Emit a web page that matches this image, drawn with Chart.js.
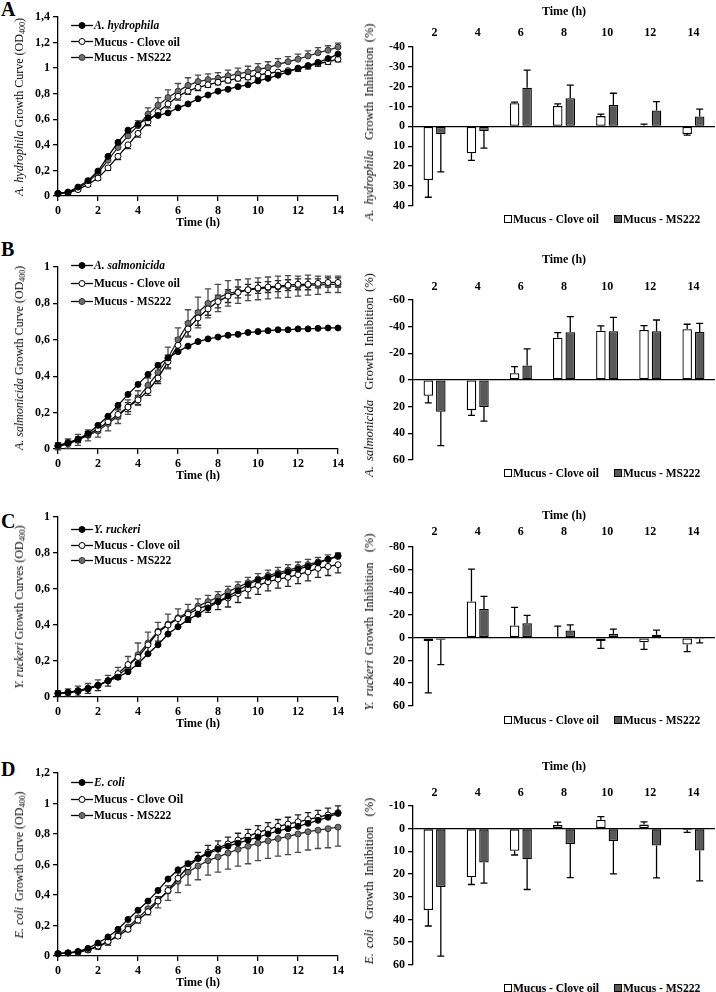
<!DOCTYPE html>
<html><head><meta charset="utf-8">
<script src="https://cdn.jsdelivr.net/npm/chart.js@4.4.1/dist/chart.umd.min.js"></script>
<style>
html,body{margin:0;padding:0;background:#fff;}
#page{position:relative;width:716px;height:992px;overflow:hidden;font-family:'Liberation Serif','Times New Roman',serif;color:#000;}
canvas{position:absolute;}
.letter{position:absolute;left:1px;font-weight:bold;font-size:20px;line-height:20px;}
.ytitle{position:absolute;font-size:12px;white-space:nowrap;transform:translate(-50%,-50%) rotate(-90deg);line-height:14px;}
.ytitle.r{font-size:12.5px;word-spacing:2px;}
.ytitle sub{font-size:8px;vertical-align:-2px;line-height:0;}
.lrow{position:absolute;left:71px;font-weight:bold;font-size:11.5px;white-space:nowrap;display:flex;align-items:center;height:14px;transform:translateY(-50%);}
.lrow svg{margin-right:1px;}
.blegend{position:absolute;left:504px;font-weight:bold;font-size:11.5px;white-space:nowrap;display:flex;align-items:center;height:14px;transform:translateY(-50%);}
.blegend .box{display:inline-block;width:6px;height:6px;border:1px solid #000;margin-right:1px;}
.blegend .gap{display:inline-block;width:15px;}
</style>
</head><body><div id="page"></div>
<script>
// ---------- DATA ----------
const timeHours = [0,0.5,1,1.5,2,2.5,3,3.5,4,4.5,5,5.5,6,6.5,7,7.5,8,8.5,9,9.5,10,10.5,11,11.5,12,12.5,13,13.5,14];
const inhibitionHours = ['2','4','6','8','10','12','14'];
const treatmentLabels = ['Mucus - Clove oil','Mucus - MS222'];

// A. hydrophila growth (OD400)
const hydrophilaControl = [0.02,0.03,0.07,0.12,0.195,0.31,0.42,0.515,0.56,0.61,0.63,0.65,0.69,0.72,0.76,0.79,0.82,0.835,0.855,0.87,0.9,0.92,0.945,0.97,1.0,1.02,1.045,1.075,1.11];
const hydrophilaClove = [0.02,0.025,0.05,0.09,0.14,0.22,0.31,0.4,0.49,0.58,0.66,0.72,0.78,0.82,0.85,0.87,0.89,0.905,0.92,0.93,0.945,0.96,0.97,0.98,0.995,1.015,1.035,1.05,1.07];
const hydrophilaMS222 = [0.02,0.03,0.06,0.11,0.18,0.28,0.38,0.47,0.55,0.64,0.71,0.77,0.82,0.865,0.895,0.91,0.92,0.94,0.955,0.97,0.99,1.005,1.03,1.05,1.07,1.095,1.12,1.14,1.165];
const hydrophilaCloveErr = [0.01,0.01,0.01,0.015,0.015,0.02,0.025,0.03,0.03,0.03,0.03,0.03,0.03,0.025,0.025,0.02,0.02,0.02,0.02,0.02,0.02,0.02,0.02,0.02,0.02,0.02,0.02,0.02,0.02];
const hydrophilaMS222Err = [0.01,0.01,0.012,0.015,0.02,0.025,0.03,0.035,0.04,0.05,0.06,0.06,0.06,0.06,0.05,0.045,0.045,0.045,0.045,0.045,0.045,0.045,0.045,0.04,0.04,0.04,0.04,0.035,0.03];

// A. salmonicida growth (OD400)
const salmonicidaControl = [0.02,0.035,0.055,0.085,0.13,0.18,0.24,0.3,0.355,0.41,0.46,0.5,0.535,0.565,0.59,0.605,0.615,0.625,0.63,0.64,0.645,0.65,0.655,0.655,0.66,0.66,0.663,0.665,0.665];
const salmonicidaClove = [0.015,0.03,0.05,0.08,0.11,0.15,0.19,0.23,0.27,0.32,0.39,0.48,0.57,0.66,0.72,0.77,0.81,0.84,0.86,0.875,0.885,0.89,0.895,0.9,0.905,0.905,0.91,0.915,0.915];
const salmonicidaMS222 = [0.015,0.03,0.05,0.075,0.1,0.14,0.18,0.23,0.28,0.35,0.42,0.5,0.6,0.69,0.75,0.8,0.83,0.855,0.865,0.875,0.88,0.885,0.89,0.893,0.895,0.9,0.9,0.905,0.905];
const salmonicidaCloveErr = [0.01,0.01,0.015,0.015,0.02,0.02,0.025,0.025,0.025,0.025,0.03,0.035,0.04,0.04,0.04,0.035,0.035,0.035,0.03,0.03,0.03,0.03,0.03,0.03,0.03,0.03,0.025,0.025,0.025];
const salmonicidaMS222Err = [0.02,0.025,0.03,0.03,0.035,0.04,0.04,0.04,0.04,0.04,0.05,0.06,0.065,0.075,0.085,0.08,0.075,0.07,0.065,0.06,0.06,0.06,0.06,0.06,0.055,0.055,0.05,0.045,0.045];

// Y. ruckeri growth (OD400)
const ruckeriControl = [0.02,0.025,0.035,0.045,0.065,0.09,0.11,0.14,0.185,0.24,0.29,0.35,0.39,0.43,0.46,0.495,0.53,0.56,0.59,0.625,0.65,0.665,0.68,0.695,0.71,0.725,0.745,0.765,0.785];
const ruckeriClove = [0.02,0.025,0.03,0.045,0.065,0.09,0.13,0.18,0.22,0.29,0.36,0.4,0.435,0.46,0.49,0.51,0.53,0.55,0.575,0.6,0.62,0.64,0.655,0.665,0.68,0.695,0.715,0.725,0.735];
const ruckeriMS222 = [0.02,0.025,0.035,0.05,0.065,0.09,0.12,0.165,0.235,0.3,0.365,0.405,0.44,0.47,0.505,0.53,0.555,0.585,0.61,0.635,0.655,0.675,0.69,0.705,0.72,0.735,0.75,0.765,0.78];
const ruckeriCloveErr = [0.015,0.02,0.025,0.025,0.03,0.03,0.03,0.04,0.05,0.05,0.05,0.05,0.045,0.045,0.04,0.04,0.045,0.05,0.05,0.05,0.05,0.05,0.05,0.05,0.05,0.05,0.05,0.05,0.045];
const ruckeriMS222Err = [0.015,0.02,0.025,0.025,0.03,0.03,0.045,0.06,0.065,0.06,0.05,0.055,0.05,0.045,0.04,0.035,0.03,0.03,0.03,0.03,0.03,0.03,0.03,0.03,0.03,0.03,0.025,0.025,0.02];

// E. coli growth (OD400)
const coliControl = [0.015,0.02,0.03,0.05,0.085,0.125,0.175,0.24,0.3,0.36,0.43,0.505,0.565,0.605,0.64,0.67,0.7,0.72,0.74,0.76,0.78,0.8,0.82,0.835,0.85,0.87,0.89,0.91,0.935];
const coliClove = [0.015,0.02,0.025,0.04,0.065,0.095,0.13,0.175,0.235,0.29,0.36,0.43,0.51,0.585,0.64,0.68,0.71,0.735,0.76,0.785,0.81,0.83,0.85,0.865,0.88,0.895,0.91,0.925,0.94];
const coliMS222 = [0.015,0.02,0.025,0.04,0.06,0.09,0.14,0.19,0.25,0.31,0.365,0.425,0.49,0.55,0.59,0.625,0.65,0.675,0.7,0.72,0.74,0.755,0.77,0.785,0.8,0.815,0.825,0.835,0.845];
const coliCloveErr = [0.01,0.01,0.01,0.01,0.015,0.015,0.02,0.02,0.025,0.025,0.03,0.03,0.035,0.035,0.04,0.045,0.045,0.045,0.045,0.045,0.045,0.045,0.045,0.045,0.045,0.045,0.045,0.045,0.045];
const coliMS222Err = [0.01,0.01,0.01,0.015,0.015,0.02,0.025,0.03,0.035,0.04,0.05,0.06,0.075,0.085,0.09,0.095,0.1,0.105,0.11,0.115,0.115,0.115,0.115,0.12,0.12,0.12,0.12,0.125,0.125];

// Growth inhibition (%)
const hydrophilaInhClove = [27,13.5,-11.7,-10.3,-5.2,-0.5,3.8];
const hydrophilaInhCloveErr = [8.7,3.6,0.5,1,1,0.6,0.6];
const hydrophilaInhMS222 = [3.9,2.3,-19.5,-14.2,-10.8,-8,-5];
const hydrophilaInhMS222Err = [19,8.6,8.8,6.6,5.9,4.5,3.7];

const salmonicidaInhClove = [11.9,22.7,-5,-31.7,-37,-37.5,-38];
const salmonicidaInhCloveErr = [5.4,3.9,5,3.8,3.5,3.3,3.8];
const salmonicidaInhMS222 = [24,20.3,-10.8,-35.8,-36.5,-36.5,-36];
const salmonicidaInhMS222Err = [25.3,10.6,12.5,11.7,10.5,8.5,6.5];

const ruckeriInhClove = [2.9,-32,-10.8,-0.9,2.9,4,6];
const ruckeriInhCloveErr = [45.7,28.5,16,9.3,6.5,6.3,6.3];
const ruckeriInhMS222 = [1.7,-25.3,-12.8,-6.4,-3.5,-2.6,1.4];
const ruckeriInhMS222Err = [22,11.1,7,4.9,4.1,4.1,3.2];

const coliInhClove = [35.9,21.4,9.7,-1.6,-3.8,-1.8,0.6];
const coliInhCloveErr = [7,3.2,1.9,1.3,1.5,1.2,1];
const coliInhMS222 = [25.7,14.9,13.5,6.8,5.4,7.4,9.6];
const coliInhMS222Err = [30.5,9.1,13.3,14.8,14.5,14.3,13.4];

// ---------- RENDERING ----------
const FONT = "'Liberation Serif','Times New Roman',serif";
const page = document.getElementById('page');
const tickFont = {family: FONT, size: 12, weight: 'bold'};
const BLACK = '#000', GRAY_FILL = '#6e6e6e', GRAY_EDGE = '#333', BAR_GRAY = '#595959';

function drawErrors(chart){
  const ctx = chart.ctx, ys = chart.scales.y;
  chart.data.datasets.forEach((ds, di) => {
    if (!ds.errors) return;
    const meta = chart.getDatasetMeta(di);
    ctx.save();
    ctx.strokeStyle = ds.errorColor || BLACK;
    ctx.lineWidth = 1.3;
    meta.data.forEach((el, i) => {
      const raw = ds.data[i];
      const v = (typeof raw === 'object') ? raw.y : raw;
      const e = ds.errors[i];
      if (!e) return;
      const dir = ds.errorDir;
      let ends = [];
      if (dir === 'up') ends = [v + e];
      else if (dir === 'down') ends = [v - e];
      else if (dir === 'both') ends = [v - e, v + e];
      else if (dir === 'away') ends = [v >= 0 ? v + e : v - e];
      const x = el.x, y0 = ys.getPixelForValue(v);
      const cw = ds.capHalf || 3.2;
      ctx.beginPath();
      ends.forEach(en => {
        const y1 = ys.getPixelForValue(en);
        ctx.moveTo(x, y0); ctx.lineTo(x, y1);
        ctx.moveTo(x - cw, y1); ctx.lineTo(x + cw, y1);
      });
      ctx.stroke();
    });
    ctx.restore();
  });
}
const errorBarPlugin = {
  id: 'errorBars',
  beforeDatasetsDraw(chart){ if (chart.config.type === 'line') drawErrors(chart); },
  afterDatasetsDraw(chart){ if (chart.config.type === 'bar') drawErrors(chart); }
};
Chart.register(errorBarPlugin);

function addCanvas(left, top, w, h){
  const c = document.createElement('canvas');
  c.width = w; c.height = h;
  c.style.left = left + 'px'; c.style.top = top + 'px';
  c.style.width = w + 'px'; c.style.height = h + 'px';
  page.appendChild(c);
  return c;
}
function addHTML(cls, html, style){
  const d = document.createElement('div');
  d.className = cls; d.innerHTML = html;
  Object.assign(d.style, style);
  page.appendChild(d);
  return d;
}
const commaFmt = v => String(Math.round(v * 10) / 10).replace('.', ',');

function lineChart(o){
  const c = addCanvas(0, o.top, 350, o.h);
  const pts = arr => timeHours.map((t, i) => ({x: t, y: arr[i]}));
  const base = {borderColor: BLACK, borderWidth: 1.3, pointRadius: 3, pointBorderWidth: 1, tension: 0, clip: false};
  new Chart(c, {
    type: 'line',
    data: {datasets: [
      Object.assign({}, base, {label: o.labels[0], data: pts(o.control), pointBackgroundColor: BLACK, pointBorderColor: BLACK}),
      Object.assign({}, base, {label: o.labels[1], data: pts(o.clove), pointBackgroundColor: '#fff', pointBorderColor: BLACK,
        errors: o.cloveErr, errorDir: o.cloveDir, errorColor: '#222'}),
      Object.assign({}, base, {label: o.labels[2], data: pts(o.ms), pointBackgroundColor: GRAY_FILL, pointBorderColor: GRAY_EDGE, borderColor: '#222',
        errors: o.msErr, errorDir: o.msDir, errorColor: '#4a4a4a'})
    ]},
    options: {
      responsive: false, animation: false,
      layout: {padding: {left: 0, right: 12, top: o.padTop, bottom: 0}},
      plugins: {legend: {display: false}, tooltip: {enabled: false}},
      scales: {
        x: {type: 'linear', min: 0, max: 14,
          ticks: {stepSize: 2, font: tickFont, color: BLACK, padding: 3},
          grid: {drawOnChartArea: false, tickLength: 5, color: BLACK, lineWidth: 1.3},
          border: {display: true, color: BLACK, width: 1.3},
          title: {display: true, text: 'Time (h)', font: tickFont, color: BLACK, padding: {top: 0, bottom: 4}},
          afterFit(s){ s.height = 38; }},
        y: {min: 0, max: o.ymax,
          ticks: {stepSize: 0.2, font: tickFont, color: BLACK, padding: 3, callback: commaFmt},
          grid: {drawOnChartArea: false, tickLength: 5, color: BLACK, lineWidth: 1.3},
          border: {display: true, color: BLACK, width: 1.3},
          afterFit(s){ s.width = 58; }}
      }
    }
  });
  const fills = [[BLACK, BLACK], ['#fff', BLACK], [GRAY_FILL, GRAY_EDGE]];
  o.labels.forEach((lab, i) => {
    const svg = `<svg width="22" height="9"><line x1="0" y1="4.5" x2="22" y2="4.5" stroke="#000" stroke-width="1.3"/><circle cx="11" cy="4.5" r="3" fill="${fills[i][0]}" stroke="${fills[i][1]}" stroke-width="1"/></svg>`;
    const txt = i === 0 ? `<i>${lab}</i>` : lab;
    addHTML('lrow', svg + txt, {top: o.legendRows[i] + 'px'});
  });
  addHTML('ytitle', o.ytitle, {left: '19px', top: (o.top + o.padTop + (o.h - o.padTop - 38) / 2) + 'px'});
}

function barChart(o){
  const c = addCanvas(360, o.top, 356, o.h);
  const scaleH = o.chartTop - o.top;
  new Chart(c, {
    type: 'bar',
    data: {labels: inhibitionHours, datasets: [
      {label: treatmentLabels[0], data: o.clove, backgroundColor: '#fff', borderColor: BLACK, borderWidth: 1.3, borderSkipped: false,
        errors: o.cloveErr, errorDir: 'away', capHalf: 3.5, categoryPercentage: 0.58, barPercentage: 0.76},
      {label: treatmentLabels[1], data: o.ms, backgroundColor: BAR_GRAY, borderColor: BLACK, borderWidth: 1.3, borderSkipped: false,
        errors: o.msErr, errorDir: 'away', capHalf: 3.5, categoryPercentage: 0.58, barPercentage: 0.76}
    ]},
    options: {
      responsive: false, animation: false,
      layout: {padding: {left: 0, right: 1, top: 0, bottom: 8}},
      plugins: {legend: {display: false}, tooltip: {enabled: false}},
      scales: {
        x: {position: 'top', offset: true,
          ticks: {font: tickFont, color: BLACK, padding: o.tickPad, maxRotation: 0},
          grid: {display: false, drawTicks: false},
          border: {display: false},
          title: {display: true, text: 'Time (h)', font: tickFont, color: BLACK, padding: {top: 4, bottom: 0}},
          afterFit(s){ s.height = scaleH; }},
        y: {reverse: true, min: o.min, max: o.max,
          ticks: {stepSize: o.step, font: tickFont, color: BLACK, padding: 3},
          grid: {color: ctx => (ctx.tick && ctx.tick.value === 0) ? BLACK : 'rgba(0,0,0,0)', lineWidth: 1.3, tickLength: 5, tickColor: BLACK, drawTicks: true},
          border: {display: true, color: BLACK, width: 1.3},
          afterFit(s){ s.width = 53; }}
      }
    }
  });
  addHTML('blegend',
    `<span class="box" style="background:#fff"></span>${treatmentLabels[0]}<span class="gap"></span><span class="box" style="background:${BAR_GRAY}"></span>${treatmentLabels[1]}`,
    {top: o.legendY + 'px'});
  addHTML('ytitle r', o.ytitle, {left: '369px', top: ((o.chartTop + o.chartBottom) / 2 - 6) + 'px'});
}

// Panel letters
[['A', -1], ['B', 239], ['C', 511], ['D', 759]].forEach(([t, y]) => addHTML('letter', t, {top: y + 'px'}));

const OD = 'OD<sub>400</sub>';
lineChart({top: 0, h: 234, padTop: 17, ymax: 1.4,
  control: hydrophilaControl, clove: hydrophilaClove, ms: hydrophilaMS222,
  cloveErr: hydrophilaCloveErr, cloveDir: 'down', msErr: hydrophilaMS222Err, msDir: 'up',
  labels: ['A. hydrophila', 'Mucus - Clove oil', 'Mucus - MS222'], legendRows: [25, 41.5, 57],
  ytitle: `<i>A. hydrophila</i> Growth Curve (${OD})`});
lineChart({top: 240, h: 247, padTop: 27, ymax: 1,
  control: salmonicidaControl, clove: salmonicidaClove, ms: salmonicidaMS222,
  cloveErr: salmonicidaCloveErr, cloveDir: 'both', msErr: salmonicidaMS222Err, msDir: 'both',
  labels: ['A. salmonicida', 'Mucus - Clove oil', 'Mucus - MS222'], legendRows: [265, 283, 301],
  ytitle: `<i>A. salmonicida</i> Growth Curve (${OD})`});
lineChart({top: 490, h: 245, padTop: 27, ymax: 1,
  control: ruckeriControl, clove: ruckeriClove, ms: ruckeriMS222,
  cloveErr: ruckeriCloveErr, cloveDir: 'down', msErr: ruckeriMS222Err, msDir: 'up',
  labels: ['Y. ruckeri', 'Mucus - Clove oil', 'Mucus - MS222'], legendRows: [529, 545, 560],
  ytitle: `<i>Y. ruckeri</i> Growth Curves (${OD})`});
lineChart({top: 746, h: 248, padTop: 27, ymax: 1.2,
  control: coliControl, clove: coliClove, ms: coliMS222,
  cloveErr: coliCloveErr, cloveDir: 'up', msErr: coliMS222Err, msDir: 'down',
  labels: ['E. coli', 'Mucus - Clove Oil', 'Mucus - MS222'], legendRows: [782, 799, 815],
  ytitle: `<i>E. coli</i>&nbsp; Growth Curve (${OD})`});

barChart({top: 1, chartTop: 47, chartBottom: 208, h: 215, tickPad: 7, min: -40, max: 40, step: 10,
  clove: hydrophilaInhClove, cloveErr: hydrophilaInhCloveErr, ms: hydrophilaInhMS222, msErr: hydrophilaInhMS222Err,
  legendY: 219, ytitle: `<i>A. hydrophila</i>&nbsp; Growth Inhibition (%)`});
barChart({top: 249, chartTop: 300, chartBottom: 462, h: 221, tickPad: 6, min: -60, max: 60, step: 20,
  clove: salmonicidaInhClove, cloveErr: salmonicidaInhCloveErr, ms: salmonicidaInhMS222, msErr: salmonicidaInhMS222Err,
  legendY: 473, ytitle: `<i>A. salmonicida</i>&nbsp; Growth Inhibition (%)`});
barChart({top: 505, chartTop: 547, chartBottom: 708, h: 211, tickPad: 8, min: -80, max: 60, step: 20,
  clove: ruckeriInhClove, cloveErr: ruckeriInhCloveErr, ms: ruckeriInhMS222, msErr: ruckeriInhMS222Err,
  legendY: 720, ytitle: `<i>Y. ruckeri</i> Growth Inhibition&nbsp; (%)`});
barChart({top: 756, chartTop: 806, chartBottom: 967, h: 219, tickPad: 6, min: -10, max: 60, step: 10,
  clove: coliInhClove, cloveErr: coliInhCloveErr, ms: coliInhMS222, msErr: coliInhMS222Err,
  legendY: 988, ytitle: `<i>E. coli</i>&nbsp; Growth Inhibition&nbsp; (%)`});
</script>
</body></html>
